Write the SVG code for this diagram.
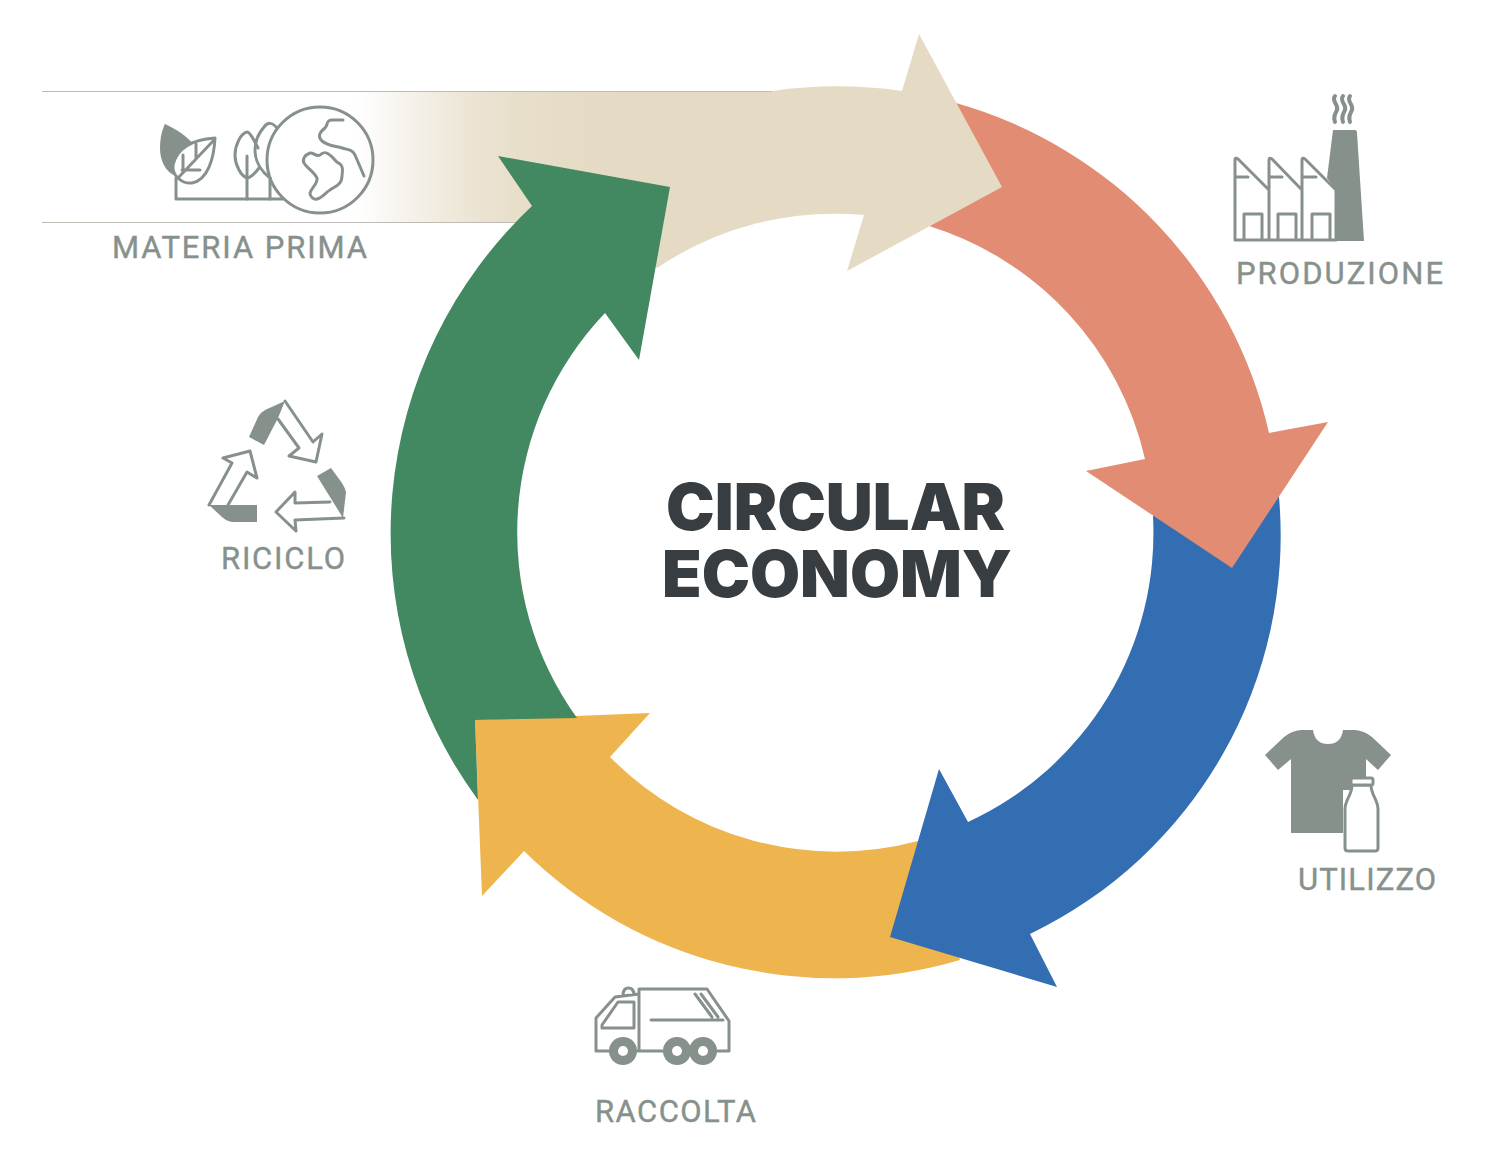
<svg xmlns="http://www.w3.org/2000/svg" width="1506" height="1152" viewBox="0 0 1506 1152">
<style>
.lab{font-family:"Roboto","Liberation Sans",sans-serif;font-size:31px;font-weight:400;fill:#87918c;stroke:#87918c;stroke-width:0.4}
.title{font-family:"Inter","Liberation Sans",sans-serif;font-size:65px;font-weight:900;fill:#373d40}
.ln{fill:none;stroke:#87918c;stroke-width:3;stroke-linejoin:round;stroke-linecap:round}
.sm{fill:none;stroke:#87918c;stroke-width:4;stroke-linecap:round}
.fl{fill:#87918c}
.wh{fill:#fff}
.rule{stroke:#bdbbb4;stroke-width:1;fill:none}
</style>
<defs>
<linearGradient id="fade" gradientUnits="userSpaceOnUse" x1="355" y1="0" x2="620" y2="0">
<stop offset="0" stop-color="#e5dbc4" stop-opacity="0"/>
<stop offset="0.15" stop-color="#e5dbc4" stop-opacity="0.25"/>
<stop offset="0.3" stop-color="#e5dbc4" stop-opacity="0.52"/>
<stop offset="0.45" stop-color="#e5dbc4" stop-opacity="0.74"/>
<stop offset="0.6" stop-color="#e5dbc4" stop-opacity="0.88"/>
<stop offset="0.8" stop-color="#e5dbc4" stop-opacity="0.97"/>
<stop offset="1" stop-color="#e5dbc4"/>
</linearGradient>
</defs>
<rect width="1506" height="1152" fill="#fff"/>
<g id="connectors">
<path id="arrow-raccolta" fill="#eeb44e" d="M960,960 A442,442 0 0 1 524,851 L482,896 L475,720 L650,713 L610,757 A318,318 0 0 0 918,841 Z"/>
<path id="arrow-utilizzo" fill="#336eb2" d="M1279,497 A442,442 0 0 1 1030,934 L1057,987 L890,937 L939,769 L968,822 A318,318 0 0 0 1153,516 L1200,500 Z"/>
<path id="arrow-produzione" fill="#e28c74" d="M956,103 A445,445 0 0 1 1269,433 L1328,422 L1232,568 L1086,471 L1145,459 A318,318 0 0 0 929,226 L970,160 Z"/>
<path id="band" fill="url(#fade)" d="M42,91 L772,91 A460,460 0 0 1 902,91 L919,34 L1002,187 L847,271 L864,215 A318,318 0 0 0 657,268 L600,222 L42,222 Z"/>
<path class="rule" d="M42,91.500 H772"/>
<path class="rule" d="M42,222.500 H530"/>
<path id="arrow-riciclo" fill="#428860" d="M478,800 A450,450 0 0 1 532,206 L498,156 L670,187 L639,360 L605,313 A318,318 0 0 0 577,718 L475,720 Z"/>
</g>
<g id="node-centro">
<text class="title"><tspan x="666" y="530" textLength="339" lengthAdjust="spacingAndGlyphs">CIRCULAR</tspan><tspan x="662" y="597" textLength="350" lengthAdjust="spacingAndGlyphs">ECONOMY</tspan></text>
</g>
<g id="node-materia-prima">
<path class="fl" d="M165,124 C176,129 187,136 194,145 L176,176 C165,172 160,160 160,148 C160,138 162,130 165,124 Z"/>
<path class="ln wh" d="M215,138 C200,139 178,144 173,165 C172,176 182,184 192,183 C208,180 214,158 215,138 Z"/>
<path class="ln" d="M214,140 L178,178 M183,155 V172 M196,144 V158 M182,170 H200"/>
<path class="ln" d="M176,178 V199 H283"/>
<path class="ln" d="M258,148 C254,140 250,132 247,132 C241,133 235,145 235,155 C235,165 241,176 247,178 C252,177 256,172 259,168 M247,156 V199"/>
<path class="ln" d="M277,128 C272,122 268,122 264,127 C258,134 255,143 255,150 C255,162 262,172 270,178 M270,178 V199"/>
<circle class="ln" cx="320" cy="160" r="53"/>
<path class="ln" d="M343,120 H332 C326,120 328,125 325,128 C320,132 317,136 322,141 C328,146 336,146 342,148 C348,150 352,149 355,155 L364,176"/>
<path class="ln" d="M310,153 C305,155 302,159 304,163 C307,168 314,172 317,178 C318,184 311,188 310,193 C310,197 314,200 317,199 C322,198 326,192 330,190 C336,186 342,184 342,176 C343,170 343,166 340,164 C335,162 334,158 331,156 C327,152 324,151 320,155 C316,157 313,152 310,153 Z"/>
<text class="lab" x="112" y="258" textLength="255" lengthAdjust="spacing">MATERIA PRIMA</text>
</g>
<g id="node-produzione">
<path class="sm" d="M1335,96 C1331,101 1339,105 1337,110 C1335,114 1333,117 1335,122 M1343,96 C1339,101 1347,105 1345,110 C1343,114 1341,117 1343,122 M1350,96 C1346,101 1354,105 1352,110 C1350,114 1348,117 1350,122"/>
<path class="fl" d="M1333,130 H1355 Q1357,130 1357,133 L1364,241 H1336 V190 L1327,178 Z"/>
<path class="ln" d="M1235,240 V160 Q1235,157 1238,159 L1269,190 V240 M1269,190 V160 Q1269,157 1272,159 L1302,190 V240 M1302,190 V160 Q1302,157 1305,159 L1336,190 V240 M1235,240 H1336"/>
<path class="ln" d="M1236,177 H1248 M1270,177 H1282 M1303,177 H1316"/>
<path class="ln" d="M1244,239 V214 H1262 V239 M1278,239 V214 H1296 V239 M1312,239 V214 H1330 V239"/>
<text class="lab" x="1236" y="284" textLength="207" lengthAdjust="spacing">PRODUZIONE</text>
</g>
<g id="node-utilizzo">
<path class="fl" d="M1313,730 Q1315,744 1328,744 Q1341,744 1343,730 L1355,730 Q1365,731 1372,737 L1391,755 L1378,770 L1366,759 V790 H1343 V833 H1291 V759 L1278,770 L1265,755 L1284,737 Q1291,731 1301,730 Z"/>
<path class="ln wh" d="M1352,785 C1352,795 1345,800 1345,809 V848 Q1345,851 1348,851 H1375 Q1378,851 1378,848 V809 C1378,800 1371,795 1371,785 Z"/>
<rect class="ln wh" x="1351" y="778" width="22" height="7" rx="2"/>
<text class="lab" x="1298" y="890" textLength="138" lengthAdjust="spacing">UTILIZZO</text>
</g>
<g id="node-raccolta">
<path class="ln" d="M623,994 C624,986 633,986 634,994 M596,1051 V1018 L615,997 L639,994 M639,1051 V989 H707 L729,1021 V1051 H596"/>
<path class="ln" d="M602,1028 V1025 L618,1002 H634 V1028 Z"/>
<path class="ln" d="M651,1020 H723 M695,994 L712,1017 M701,994 L718,1017"/>
<circle class="fl" cx="623" cy="1051" r="14"/><circle class="wh" cx="623" cy="1051" r="5"/>
<circle class="fl" cx="677" cy="1051" r="14"/><circle class="wh" cx="677" cy="1051" r="5"/>
<circle class="fl" cx="703" cy="1051" r="14"/><circle class="wh" cx="703" cy="1051" r="5"/>
<text class="lab" x="595" y="1122" textLength="161" lengthAdjust="spacing">RACCOLTA</text>
</g>
<g id="node-riciclo">
<path class="fl" d="M285,401 L278,418 L264,445 L249,437 L258,417 Q261,412 265,410 Z"/>
<path class="ln" d="M285,401 L313,442 L322,434 L316,462 L289,456 L299,448 L278,419"/>
<path class="fl" d="M209,505 H257 V522 H232 Q226,521 222,517 Z"/>
<path class="ln" d="M209,505 L232,463 L223,458 L250,451 L257,478 L247,472 L228,505"/>
<path class="fl" d="M331,468 L317,476 L343,518 L346,492 Q345,488 342,483 Z"/>
<path class="ln" d="M330,502 L295,503 V492 L276,512 L296,531 L295,520 L344,518"/>
<text class="lab" x="221" y="569" textLength="124" lengthAdjust="spacing">RICICLO</text>
</g>
</svg>
